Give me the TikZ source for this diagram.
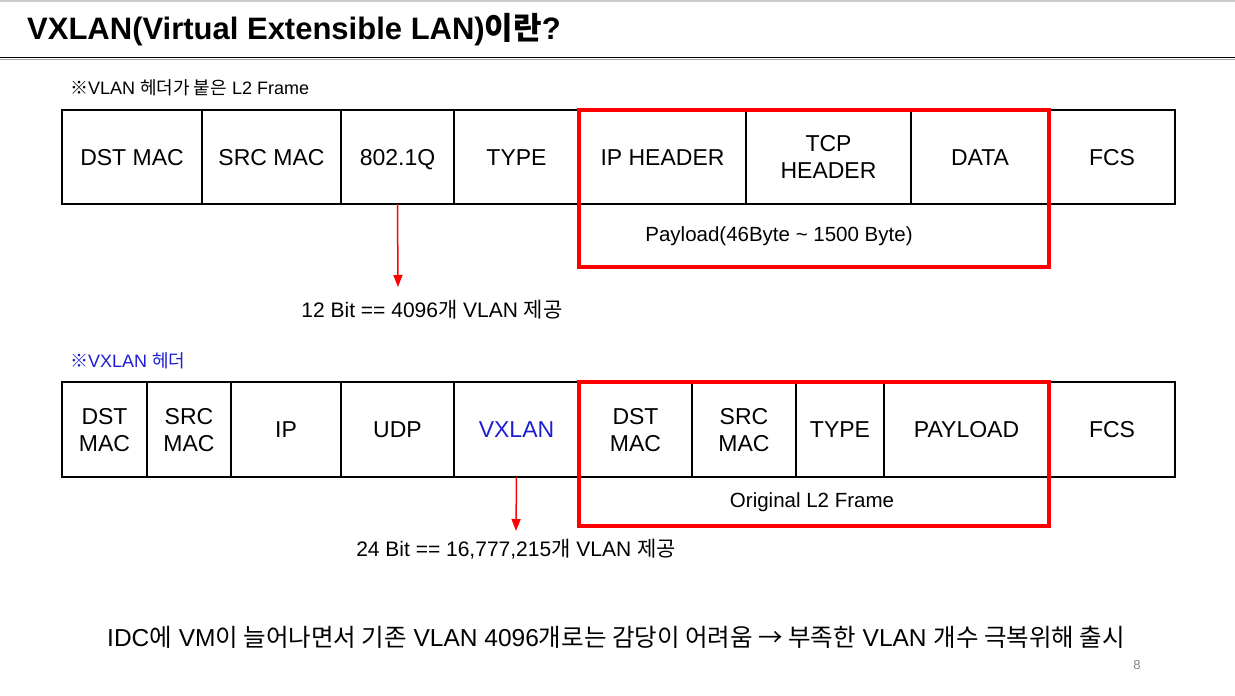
\documentclass[tikz,border=0pt]{standalone}
\usepackage{fontspec}
\setmainfont{Liberation Sans}
\newfontfamily\kr{Noto Sans CJK KR}
\usetikzlibrary{positioning,arrows.meta}
\definecolor{vxblue}{RGB}{30,30,210}
\definecolor{pgnum}{RGB}{130,130,130}
\begin{document}
\begin{tikzpicture}[x=1pt,y=-1pt,
  cell/.style={draw,line width=1.6pt,outer sep=0pt,inner sep=0pt,minimum height=94pt,align=center,text depth=0pt,font=\fontsize{23}{27}\selectfont,execute at begin node={\rule{0pt}{0.72em}}},
  redbox/.style={draw=red,line width=3.5pt},
  redarrow/.style={red,line width=1.5pt,-{Triangle[width=9pt,length=12pt]}},
  note/.style={inner sep=0pt,font=\fontsize{21}{25}\selectfont}]
\useasboundingbox[fill=white] (0,0) rectangle (1235,696);
\draw[black!20,line width=1.5pt] (0,0.8) -- (1235,0.8);
\node[anchor=west,inner sep=0pt,font=\fontsize{31}{36}\selectfont\bfseries] (title) at (27,30) {VXLAN(Virtual Extensible LAN){\kr 이란}?};
\draw[black!35,line width=1.5pt] (0,59.5) -- (1235,59.5);
\draw[black,line width=1.8pt] (0,57.5) -- (1235,57.5);

\node[anchor=west,inner sep=0pt,font=\fontsize{18}{22}\selectfont] (vlancap) at (70,88) {{\kr ※}VLAN {\kr 헤더가 붙은} L2 Frame};
\node[cell,minimum width=140pt,anchor=north west] (dst) at (62,110) {DST MAC};
\node[cell,minimum width=139pt,right=0pt of dst] (src) {SRC MAC};
\node[cell,minimum width=113pt,right=0pt of src] (dotq) {802.1Q};
\node[cell,minimum width=125pt,right=0pt of dotq] (type) {TYPE};
\node[cell,minimum width=167pt,right=0pt of type] (iph) {IP HEADER};
\node[cell,minimum width=165pt,right=0pt of iph] (tcph) {TCP\\HEADER};
\node[cell,minimum width=138pt,right=0pt of tcph] (data) {DATA};
\node[cell,minimum width=126pt,right=0pt of data] (fcs) {FCS};
\coordinate (plbot) at (0,267);
\draw[redbox] (iph.north west) rectangle (data.south east |- plbot);
\node[note,font=\fontsize{20.5}{25}\selectfont] (payload) at (779,236) {Payload(46Byte \textasciitilde{} 1500 Byte)};
\node[note] (vlanbits) at (432,310) {12 Bit == 4096{\kr 개} VLAN {\kr 제공}};
\coordinate (tip1) at (398,287);
\draw[redarrow] (dotq.south) -- (tip1);

\node[anchor=west,inner sep=0pt,text=vxblue,font=\fontsize{18}{22}\selectfont] (vxcap) at (70,361) {{\kr ※}VXLAN {\kr 헤더}};
\node[cell,minimum width=85pt,minimum height=95pt,anchor=north west] (odst) at (62,382) {DST\\MAC};
\node[cell,minimum width=84pt,minimum height=95pt,right=0pt of odst] (osrc) {SRC\\MAC};
\node[cell,minimum width=110pt,minimum height=95pt,right=0pt of osrc] (oip) {IP};
\node[cell,minimum width=113pt,minimum height=95pt,right=0pt of oip] (oudp) {UDP};
\node[cell,minimum width=125pt,minimum height=95pt,right=0pt of oudp,text=vxblue] (vxlan) {VXLAN};
\node[cell,minimum width=113pt,minimum height=95pt,right=0pt of vxlan] (idst) {DST\\MAC};
\node[cell,minimum width=104pt,minimum height=95pt,right=0pt of idst] (isrc) {SRC\\MAC};
\node[cell,minimum width=88pt,minimum height=95pt,right=0pt of isrc] (itype) {TYPE};
\node[cell,minimum width=165pt,minimum height=95pt,right=0pt of itype] (ipay) {PAYLOAD};
\node[cell,minimum width=126pt,minimum height=95pt,right=0pt of ipay] (ofcs) {FCS};
\coordinate (l2bot) at (0,526);
\draw[redbox] (idst.north west) rectangle (ipay.south east |- l2bot);
\node[note,font=\fontsize{20.5}{25}\selectfont] (l2frame) at (812,502) {Original L2 Frame};
\node[note] (vxbits) at (516,549) {24 Bit == 16,777,215{\kr 개} VLAN {\kr 제공}};
\coordinate (tip2) at (516,531);
\draw[redarrow] (vxlan.south) -- (tip2);

\node[inner sep=0pt,font=\fontsize{24.5}{28}\selectfont] (summary) at (616,637) {IDC{\kr 에} VM{\kr 이 늘어나면서 기존} VLAN 4096{\kr 개로는 감당이 어려움 → 부족한} VLAN {\kr 개수 극복위해 출시}};
\node[inner sep=0pt,text=pgnum,font=\fontsize{13}{15}\selectfont] (page) at (1137,665) {8};
\end{tikzpicture}
\end{document}
